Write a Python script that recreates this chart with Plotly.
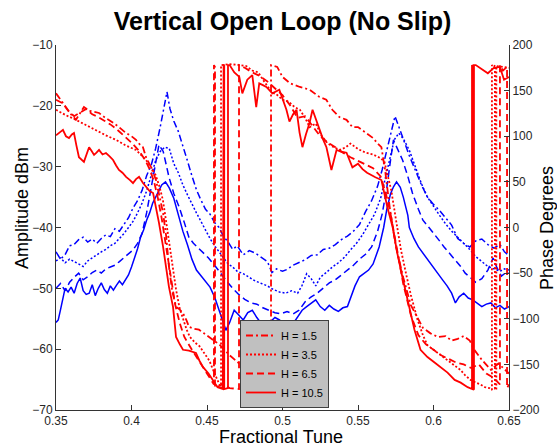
import plotly.graph_objects as go

# ---------------- data ----------------
tune_ticks = [0.35, 0.40, 0.45, 0.50, 0.55, 0.60, 0.65]
tune_tick_text = ["0.35", "0.4", "0.45", "0.5", "0.55", "0.6", "0.65"]
amp_ticks = [-70, -60, -50, -40, -30, -20, -10]
phase_ticks = [-200, -150, -100, -50, 0, 50, 100, 150, 200]
labels = ["H = 1.5", "H = 3.5", "H = 6.5", "H = 10.5"]

# Amplitude (dBm), blue
amp15_x = [0.350,0.353,0.356,0.359,0.362,0.365,0.368,0.371,0.374,0.377,0.380,0.383,0.386,0.389,0.392,0.395,0.398,0.401,0.404,0.407,0.410,0.413,0.416,0.419,0.4215,0.4235,0.4255,0.428,0.431,0.434,0.437,0.440,0.443,0.446,0.449,0.452,0.455,0.458,0.461,0.464,0.467,0.470,0.474,0.478,0.482,0.486,0.490,0.493,0.496,0.500,0.503,0.507,0.511,0.515,0.519,0.523,0.527,0.531,0.535,0.539,0.543,0.547,0.551,0.555,0.559,0.563,0.566,0.569,0.572,0.5745,0.577,0.580,0.584,0.588,0.592,0.596,0.600,0.604,0.608,0.612,0.616,0.620,0.624,0.628,0.632,0.636,0.640,0.644,0.647,0.650]
amp15_y = [-44.0,-45.2,-44.5,-43.0,-42.8,-42.0,-41.6,-42.4,-41.9,-42.6,-41.8,-41.2,-41.5,-40.2,-40.6,-39.6,-38.4,-36.8,-35.6,-33.9,-31.5,-29.8,-27.0,-23.5,-20.0,-17.7,-20.5,-22.5,-24.2,-26.8,-29.0,-31.5,-33.8,-35.5,-37.0,-37.8,-39.2,-40.0,-41.5,-42.4,-43.6,-43.0,-44.5,-43.8,-44.2,-44.9,-45.6,-47.4,-46.8,-47.2,-46.9,-46.2,-45.8,-45.3,-44.6,-44.5,-43.6,-43.4,-42.8,-42.0,-41.4,-40.6,-39.5,-37.4,-35.6,-33.2,-30.5,-27.3,-24.0,-21.7,-23.4,-25.6,-28.2,-30.6,-33.0,-35.0,-36.2,-37.2,-38.4,-39.6,-41.8,-42.6,-43.2,-42.2,-41.9,-42.8,-43.4,-42.8,-44.0,-44.6]

amp35_x = [0.350,0.353,0.356,0.359,0.362,0.365,0.368,0.371,0.374,0.377,0.380,0.383,0.386,0.389,0.392,0.395,0.398,0.401,0.404,0.407,0.410,0.413,0.416,0.419,0.422,0.425,0.428,0.431,0.434,0.437,0.440,0.443,0.446,0.449,0.452,0.455,0.458,0.461,0.464,0.467,0.470,0.474,0.478,0.482,0.486,0.490,0.494,0.498,0.502,0.506,0.510,0.513,0.516,0.519,0.522,0.525,0.529,0.533,0.537,0.541,0.545,0.549,0.553,0.557,0.561,0.565,0.568,0.571,0.574,0.577,0.580,0.584,0.588,0.592,0.596,0.600,0.604,0.608,0.612,0.616,0.620,0.624,0.628,0.632,0.636,0.640,0.644,0.647,0.650]
amp35_y = [-45.5,-45.0,-45.8,-45.2,-45.6,-46.0,-46.4,-45.5,-45.0,-44.4,-44.0,-43.6,-43.0,-42.6,-41.8,-41.0,-40.0,-39.0,-37.6,-36.0,-34.0,-31.5,-29.0,-27.5,-26.8,-27.0,-29.5,-31.0,-33.0,-34.6,-36.2,-37.6,-39.0,-40.5,-41.8,-43.0,-44.0,-45.0,-46.0,-46.5,-47.2,-47.6,-48.2,-48.8,-49.2,-49.6,-50.2,-50.6,-50.8,-50.4,-50.8,-49.5,-47.6,-48.4,-49.6,-48.2,-47.4,-46.5,-45.8,-44.9,-43.7,-42.6,-41.2,-39.6,-37.8,-35.2,-32.0,-28.5,-25.6,-24.5,-25.4,-27.3,-30.0,-32.8,-35.0,-36.6,-38.0,-39.4,-40.6,-41.6,-42.6,-43.6,-44.8,-45.6,-46.4,-46.8,-47.2,-46.8,-47.0]

amp65_x = [0.350,0.353,0.356,0.359,0.362,0.365,0.368,0.371,0.374,0.377,0.380,0.383,0.386,0.389,0.392,0.395,0.398,0.401,0.404,0.407,0.410,0.412,0.415,0.4182,0.421,0.4248,0.428,0.4315,0.435,0.438,0.441,0.4474,0.451,0.455,0.459,0.463,0.467,0.471,0.475,0.479,0.483,0.487,0.491,0.495,0.499,0.503,0.507,0.511,0.515,0.519,0.523,0.527,0.531,0.535,0.539,0.543,0.547,0.551,0.555,0.559,0.563,0.566,0.569,0.5715,0.5735,0.576,0.5795,0.583,0.586,0.590,0.593,0.597,0.600,0.604,0.607,0.611,0.614,0.618,0.621,0.624,0.628,0.632,0.636,0.6395,0.642,0.645,0.648,0.650]
amp65_y = [-50.0,-49.2,-50.4,-49.0,-48.2,-47.5,-48.6,-48.1,-47.4,-47.0,-47.5,-46.8,-46.5,-46.2,-45.6,-45.0,-44.4,-43.7,-42.6,-41.0,-37.6,-35.0,-30.5,-26.4,-27.5,-31.7,-34.4,-36.6,-39.2,-41.6,-42.6,-44.2,-45.0,-46.2,-47.6,-48.8,-50.0,-51.0,-51.8,-52.4,-52.6,-53.2,-53.6,-54.0,-54.2,-53.8,-54.2,-53.6,-52.2,-51.4,-50.8,-50.0,-49.1,-48.6,-47.8,-47.0,-46.2,-45.2,-44.4,-43.2,-40.6,-37.8,-33.6,-29.0,-25.6,-27.0,-28.9,-31.6,-34.3,-37.0,-38.8,-40.0,-40.9,-42.2,-43.2,-44.4,-45.3,-46.4,-47.5,-48.2,-49.0,-48.4,-47.0,-45.0,-46.6,-48.0,-47.4,-47.5]

amp105_x = [0.350,0.3515,0.353,0.3545,0.356,0.358,0.360,0.362,0.364,0.366,0.368,0.370,0.372,0.374,0.376,0.378,0.380,0.382,0.384,0.386,0.388,0.390,0.392,0.394,0.396,0.398,0.400,0.402,0.404,0.406,0.408,0.410,0.412,0.414,0.417,0.420,0.4225,0.425,0.428,0.431,0.434,0.437,0.440,0.443,0.446,0.449,0.452,0.455,0.458,0.460,0.4625,0.465,0.468,0.471,0.474,0.477,0.480,0.483,0.486,0.489,0.492,0.495,0.498,0.501,0.504,0.507,0.510,0.513,0.516,0.519,0.522,0.525,0.528,0.531,0.534,0.537,0.540,0.543,0.545,0.548,0.551,0.554,0.557,0.560,0.562,0.564,0.567,0.569,0.5715,0.5735,0.5755,0.578,0.580,0.583,0.584,0.587,0.590,0.594,0.598,0.602,0.606,0.609,0.612,0.6145,0.617,0.620,0.623,0.626,0.629,0.632,0.635,0.638,0.641,0.644,0.647,0.650]
amp105_y = [-55.6,-55.2,-53.5,-51.5,-50.0,-50.6,-49.8,-50.8,-49.2,-48.3,-50.4,-51.0,-50.8,-49.4,-51.2,-50.0,-49.1,-50.2,-50.8,-49.6,-50.3,-49.5,-48.8,-49.4,-48.6,-47.8,-46.5,-45.0,-43.5,-41.6,-40.4,-38.8,-37.6,-36.0,-34.6,-33.0,-32.5,-33.5,-35.2,-38.0,-40.6,-42.8,-45.2,-47.0,-48.0,-49.0,-49.8,-51.4,-53.6,-55.0,-56.9,-55.6,-53.6,-54.4,-55.2,-54.0,-53.6,-54.8,-55.8,-56.4,-55.5,-54.8,-55.2,-56.0,-56.4,-55.8,-54.6,-53.6,-53.0,-52.4,-51.9,-53.0,-53.6,-52.8,-53.4,-53.8,-53.2,-53.0,-51.6,-49.6,-48.1,-47.6,-47.0,-46.0,-44.5,-43.2,-40.0,-37.1,-34.5,-33.3,-32.5,-33.4,-35.0,-38.0,-40.0,-41.8,-43.2,-44.6,-45.8,-47.2,-48.6,-49.6,-50.8,-52.4,-51.4,-50.8,-51.6,-51.9,-52.4,-53.0,-52.6,-52.4,-53.2,-52.8,-53.4,-53.0]

# Phase (degrees), red
ph15_x = [0.350,0.353,0.3566,0.3600,0.3632,0.3660,0.3685,0.3719,0.3750,0.3785,0.3820,0.3851,0.3885,0.3917,0.3964,0.4000,0.4030,0.4060,0.4076,0.4096,0.4130,0.4162,0.4185,0.4209,0.4230,0.4248,0.4270,0.4295,0.4320,0.4341,0.4365,0.4381,0.4415,0.4447,0.4480,0.4513,0.4550,0.4580,0.4650,0.4720,0.4800,0.4870,0.4924,0.4924,0.4965,0.5000,0.5050,0.5115,0.5180,0.5245,0.5290,0.5330,0.5377,0.5424,0.5463,0.5500,0.5550,0.5600,0.5630,0.5655,0.5680,0.5710,0.5750,0.5800,0.5850,0.5890,0.5930,0.5980,0.6030,0.6080,0.6120,0.6160,0.6200,0.6240,0.6270,0.6320,0.6380,0.6430,0.6470,0.6500]
ph15_y = [147,140,132,124,118,126,132,128,127,125.5,121,118,114,110,103.5,100,96,90,88,77,66,52,36,16,-10,-43,-70,-87,-90,-94,-102,-109,-111,-112,-116,-120,-124,-128,-140,-150,-158,-165,-173,178,176,165,158,154,151,143,140,129,121,118,110,110,104,98,92,88,62,22,-20,-55,-85,-98,-110,-116,-120,-119,-124,-122,-119,-124,-134,-145,-156,-149,-155,-160]

ph35_x = [0.350,0.3566,0.3632,0.3700,0.3765,0.3830,0.3897,0.3960,0.4030,0.4096,0.4130,0.4160,0.4185,0.4208,0.4228,0.4248,0.4270,0.4295,0.4318,0.4341,0.4365,0.4387,0.4420,0.4450,0.4480,0.4516,0.4550,0.4593,0.4593,0.4650,0.4720,0.4760,0.4800,0.4840,0.4870,0.4900,0.4930,0.4960,0.5000,0.5040,0.5080,0.5115,0.5150,0.5180,0.5220,0.5260,0.5300,0.5340,0.5380,0.5420,0.5450,0.5500,0.5550,0.5600,0.5650,0.5675,0.5700,0.5720,0.5750,0.5785,0.5820,0.5850,0.5894,0.5930,0.5960,0.6000,0.6046,0.6080,0.6110,0.6150,0.6178,0.6210,0.6245,0.6280,0.6310,0.6340,0.6370,0.6387,0.6387,0.6400,0.6407,0.6407,0.6416,0.6416,0.6450,0.6500]
ph35_y = [129,123,118,112,107,101,96,90,85,74,66,57.5,45,30,8,-14,-42,-68,-88,-101,-112,-120,-126,-130,-137,-146,-160,-176,178,179,178,177,172,170,162,155,148,146,140,138,132,129,120,110,114,100,92,88,85,88,92,86,82,80,76,72,55,41,10,-25,-52,-74,-101,-118,-129,-134,-140,-144,-147,-152,-156,-162,-167,-170,-172,-175,-176,-178,178,176,178,-177,-178,177,176,175]

ph65_x = [0.350,0.3545,0.3580,0.3620,0.3660,0.3700,0.3740,0.3780,0.3820,0.3860,0.3900,0.3950,0.4000,0.4050,0.4090,0.4120,0.4150,0.4175,0.4200,0.4230,0.4260,0.4290,0.4320,0.4350,0.4400,0.4450,0.4500,0.4546,0.4546,0.4553,0.4553,0.4600,0.4650,0.4712,0.4712,0.4750,0.4800,0.4850,0.4900,0.4950,0.5000,0.5050,0.5100,0.5150,0.5200,0.5250,0.5300,0.5350,0.5400,0.5450,0.5500,0.5550,0.5600,0.5650,0.5680,0.5710,0.5750,0.5800,0.5850,0.5900,0.5950,0.6000,0.6050,0.6100,0.6150,0.6200,0.6250,0.6300,0.6350,0.6400,0.6440,0.6440,0.6460,0.6487,0.6487,0.6500]
ph65_y = [140,136,128,122,126,130,124,121,117,113,108,101,93,84,74,64,50,32,10,-22,-55,-85,-105,-120,-134,-147,-159,-172,178,176,-176,-172,-176,-177,178,175,170,166,160,152,145,134,120,122,111,100,93,88,82,77,73,69,65,56,40,20,-18,-62,-96,-118,-128,-134,-140,-144,-148,-150,-154,-150,-160,-165,-172,178,172,176,-176,-172]

ph105_x = [0.350,0.3523,0.3546,0.3566,0.3586,0.3605,0.3619,0.3635,0.3652,0.3685,0.3700,0.3719,0.3735,0.3752,0.3768,0.3785,0.3808,0.3831,0.3855,0.3878,0.3898,0.3917,0.3940,0.3964,0.3990,0.4010,0.4030,0.4050,0.4075,0.4096,0.4120,0.4143,0.4162,0.4182,0.4209,0.4228,0.4248,0.4275,0.4295,0.4320,0.4341,0.4380,0.4427,0.4450,0.4474,0.4510,0.4540,0.4570,0.4605,0.4605,0.4610,0.4614,0.4614,0.4639,0.4639,0.4650,0.4681,0.4714,0.4734,0.4767,0.4800,0.4826,0.4846,0.4870,0.4893,0.4933,0.4979,0.5026,0.5046,0.5070,0.5093,0.5113,0.5132,0.5155,0.5179,0.5199,0.5225,0.5245,0.5270,0.5291,0.5324,0.5358,0.5390,0.5424,0.5463,0.5500,0.5530,0.5560,0.5590,0.5615,0.5655,0.5695,0.5730,0.5760,0.5795,0.5828,0.5850,0.5874,0.5914,0.5960,0.6007,0.6050,0.6093,0.6140,0.6180,0.6226,0.6255,0.6255,0.6258,0.6262,0.6262,0.6268,0.6268,0.6280,0.6330,0.6360,0.6400,0.6440,0.6467,0.6500]
ph105_y = [101,104,107,100,98,102,103.5,90,77,72,80,88,84,79.5,82,85,80,81.6,78,74,68,63,60,55.5,52,48.7,53,55.5,49,44.4,40,37.8,22.5,5,-21,-43,-65,-87,-120,-128,-134,-135,-137.5,-146,-153,-160,-167,-175,-177,178,179,177,-177,-176,178,178,170,165,147,162,167,132,158,156,154,147,151,129,116,124,129,104,88,102,114.5,129,116,107,96,88,63,85,83,82,66,70,64,60,57,55,52,22,0,-28,-55,-79,-98,-112,-134,-142,-148,-154,-159,-167,-170,-175,-177,178,176,178,-178,-177,178,178,172,169,175,176,162,165]

# ---------------- figure ----------------
W, H = 557, 447
L, R, T, B = 56, 48, 45, 37
PW, PH = W - L - R, H - T - B
FONT = "Liberation Sans, Arial, sans-serif"
AX = "#333333"

def px_x(px):
    return (px - L) / PW

def px_y(py):
    return (H - B - py) / PH

dash_styles = ["7px,3px,2px,3px", "2px,2px", "7px,4px", "solid"]
amp_series = [(amp15_x, amp15_y), (amp35_x, amp35_y), (amp65_x, amp65_y), (amp105_x, amp105_y)]
ph_series = [(ph15_x, ph15_y), (ph35_x, ph35_y), (ph65_x, ph65_y), (ph105_x, ph105_y)]

fig = go.Figure()
for (xs, ys), d, lab in zip(amp_series, dash_styles, labels):
    fig.add_trace(go.Scatter(x=xs, y=ys, mode="lines", yaxis="y", showlegend=False,
                             name=lab + " amplitude",
                             line=dict(color="#0000ff", width=1.5, dash=d)))
for (xs, ys), d, lab in zip(ph_series, dash_styles, labels):
    fig.add_trace(go.Scatter(x=xs, y=ys, mode="lines", yaxis="y2", name=lab,
                             line=dict(color="#ff0000", width=1.8, dash=d)))

tickfont = dict(family=FONT, size=12, color="#262626")
fig.update_layout(
    width=W, height=H,
    margin=dict(l=L, r=R, t=T, b=B),
    paper_bgcolor="white", plot_bgcolor="white",
    font=dict(family=FONT, color="black"),
    xaxis=dict(range=[0.35, 0.65], tickvals=tune_ticks, ticktext=tune_tick_text,
               ticks="inside", ticklen=5, tickcolor=AX, showline=True, linecolor=AX,
               linewidth=1, showgrid=False, zeroline=False, tickfont=tickfont, mirror=False),
    yaxis=dict(range=[-70, -10], tickvals=amp_ticks, ticks="inside", ticklen=5,
               tickcolor=AX, showline=True, linecolor=AX, linewidth=1, showgrid=False,
               zeroline=False, tickfont=tickfont),
    yaxis2=dict(range=[-200, 200], tickvals=phase_ticks, overlaying="y", side="right",
                ticks="inside", ticklen=5, tickcolor=AX, showline=True, linecolor=AX,
                linewidth=1, showgrid=False, zeroline=False, tickfont=tickfont),
    legend=dict(x=px_x(240), y=px_y(320), xanchor="left", yanchor="top",
                bgcolor="#c0c0c0", bordercolor="#404040", borderwidth=1,
                font=dict(family=FONT, size=11, color="black"), tracegroupgap=0),
    title=dict(text="<b>Vertical Open Loop (No Slip)</b>", x=0.5, xref="paper",
               y=1 - 21 / H, yref="container", xanchor="center", yanchor="middle",
               font=dict(family=FONT, size=25, color="black")),
    annotations=[
        dict(text="Fractional Tune", x=px_x(281), y=px_y(437), xref="paper", yref="paper",
             showarrow=False, xanchor="center", yanchor="middle",
             font=dict(family=FONT, size=18, color="black")),
        dict(text="Amplitude dBm", x=px_x(22), y=px_y(208), xref="paper", yref="paper",
             showarrow=False, xanchor="center", yanchor="middle", textangle=-90,
             font=dict(family=FONT, size=18, color="black")),
        dict(text="Phase Degrees", x=px_x(547), y=px_y(228), xref="paper", yref="paper",
             showarrow=False, xanchor="center", yanchor="middle", textangle=-90,
             font=dict(family=FONT, size=18, color="black")),
    ],
)

fig.write_html("out.html")
